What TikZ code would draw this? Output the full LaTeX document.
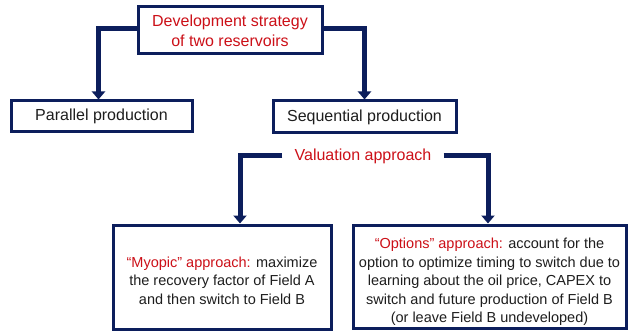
\documentclass[tikz,border=0pt]{standalone}
\usepackage{fontspec}
\setmainfont{Liberation Sans}
\usetikzlibrary{arrows.meta}
\definecolor{navy}{RGB}{12,30,92}
\definecolor{hred}{RGB}{204,16,24}
\definecolor{ink}{RGB}{30,30,30}
\tikzset{
  box/.style={draw=navy, line width=3pt, fill=white, inner sep=0pt, align=center, text=ink},
  head/.style={font=\fontsize{16}{20}\selectfont},
  body/.style={font=\fontsize{14.5}{18.5}\selectfont, align=center, text=ink, inner sep=0pt},
  link/.style={draw=navy, line width=5pt, -{Triangle[width=13pt,length=8pt]}}
}
\begin{document}
\begin{tikzpicture}[x=1pt,y=-1pt]
  \useasboundingbox (0,0) rectangle (628,331);
  % boxes
  \node[box, head, minimum width=184pt, minimum height=47pt, text=hred] (top) at (230,30.5)
    {Development strategy\\of two reservoirs};
  \node[box, head, minimum width=181pt, minimum height=31pt] (par) at (101.5,116.5) {Parallel production};
  \node[box, head, minimum width=183pt, minimum height=32pt] (seq) at (364.5,117) {Sequential production};
  \node[head, text=hred, inner xsep=12pt] (val) at (363,156) {Valuation approach};
  \node[box, minimum width=218pt, minimum height=104pt] (myo) at (222,277) {};
  \node[body] (myotext) at ([yshift=-3.5pt]myo.center)
    {\textcolor{hred}{“Myopic” approach:} maximize\\the recovery factor of Field A\\and then switch to Field B};
  \node[box, minimum width=273pt, minimum height=103pt] (opt) at (489.5,276.5) {};
  \node[body] (opttext) at ([yshift=-5.5pt]opt.center)
    {\textcolor{hred}{“Options” approach:} account for the\\option to optimize timing to switch due to\\learning about the oil price, CAPEX to\\switch and future production of Field B\\(or leave Field B undeveloped)};
  % connectors
  \draw[link] ([yshift=1.5pt]top.west) -| ([xshift=-3pt]par.north);
  \draw[link] ([yshift=1.5pt]top.east) -| (seq.north);
  \draw[link] (val.west) -| ([xshift=18pt]myo.north);
  \draw[link] (val.east) -| ([xshift=-1.5pt]opt.north);
\end{tikzpicture}
\end{document}
